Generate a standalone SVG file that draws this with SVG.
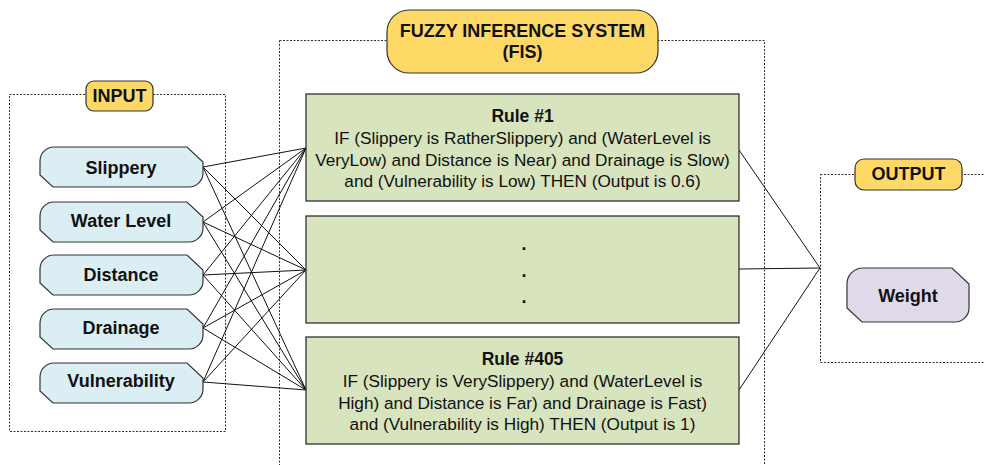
<svg xmlns="http://www.w3.org/2000/svg" width="985" height="465" viewBox="0 0 985 465">
<style>
.frame{fill:none;stroke:#333;stroke-width:1;stroke-dasharray:2 1.5}
.label{fill:#ffd966;stroke:#333;stroke-width:1.2}
.inp{fill:#daeef3;stroke:#333;stroke-width:1.2}
.out{fill:#e0d9e9;stroke:#333;stroke-width:1.2}
.rule{fill:#d7e4bd;stroke:#222;stroke-width:1.2}
.b{font-family:"Liberation Sans",Arial,sans-serif;font-weight:bold;font-size:18px;fill:#111;text-anchor:middle}
.h{font-family:"Liberation Sans",Arial,sans-serif;font-weight:bold;font-size:17.5px;fill:#111;text-anchor:middle}
.t{font-family:"Liberation Sans",Arial,sans-serif;font-size:17.2px;fill:#111;text-anchor:middle}
.conn line{stroke:#111;stroke-width:1}
</style>
<defs>
<path id="inshape" d="M14 0 H147 L163 15 V26 A14 14 0 0 1 149 40 H13 L0 28 V14 A14 14 0 0 1 14 0 Z"/>
</defs>
<rect width="985" height="465" fill="#fff"/>
<g id="frames">
<rect class="frame" x="9.5" y="94.5" width="216" height="337"/>
<rect class="frame" x="279.5" y="40.5" width="485" height="440"/>
<rect class="frame" x="820.5" y="174.5" width="180" height="188"/>
</g>
<g class="conn" id="connectors">
<line x1="203" y1="167" x2="306" y2="148"/>
<line x1="203" y1="167" x2="306" y2="270"/>
<line x1="203" y1="167" x2="306" y2="390"/>
<line x1="203" y1="222" x2="306" y2="148"/>
<line x1="203" y1="222" x2="306" y2="270"/>
<line x1="203" y1="222" x2="306" y2="390"/>
<line x1="203" y1="275" x2="306" y2="148"/>
<line x1="203" y1="275" x2="306" y2="270"/>
<line x1="203" y1="275" x2="306" y2="390"/>
<line x1="203" y1="328" x2="306" y2="148"/>
<line x1="203" y1="328" x2="306" y2="270"/>
<line x1="203" y1="328" x2="306" y2="390"/>
<line x1="203" y1="382" x2="306" y2="148"/>
<line x1="203" y1="382" x2="306" y2="270"/>
<line x1="203" y1="382" x2="306" y2="390"/>
<line x1="739" y1="150" x2="820" y2="268"/>
<line x1="739" y1="269" x2="820" y2="268"/>
<line x1="739" y1="390" x2="820" y2="268"/>
</g>
<g id="input-label">
<rect class="label" x="86" y="81" width="67" height="30" rx="8"/>
<text class="b" x="119.5" y="102">INPUT</text>
</g>
<g id="fis-label">
<rect class="label" x="387" y="10" width="271" height="63" rx="22"/>
<text class="b" x="522.5" y="37">FUZZY INFERENCE SYSTEM</text>
<text class="b" x="522.5" y="58">(FIS)</text>
</g>
<g id="output-label">
<rect class="label" x="855" y="159" width="107" height="31" rx="9"/>
<text class="b" x="908.5" y="180">OUTPUT</text>
</g>
<g id="slippery">
<use href="#inshape" class="inp" x="40" y="147"/>
<text class="b" x="121" y="174">Slippery</text>
</g>
<g id="water-level">
<use href="#inshape" class="inp" x="40" y="202"/>
<text class="b" x="121" y="227">Water Level</text>
</g>
<g id="distance">
<use href="#inshape" class="inp" x="40" y="255"/>
<text class="b" x="121" y="281">Distance</text>
</g>
<g id="drainage">
<use href="#inshape" class="inp" x="40" y="309"/>
<text class="b" x="121" y="334">Drainage</text>
</g>
<g id="vulnerability">
<use href="#inshape" class="inp" x="40" y="363"/>
<text class="b" x="121" y="387">Vulnerability</text>
</g>
<g id="rule1">
<rect class="rule" x="306" y="94" width="433" height="107"/>
<text class="h" x="522.5" y="122">Rule #1</text>
<text class="t" x="522.5" y="144">IF (Slippery is RatherSlippery) and (WaterLevel is</text>
<text class="t" x="522.5" y="166">VeryLow) and Distance is Near) and Drainage is Slow)</text>
<text class="t" x="522.5" y="187">and (Vulnerability is Low) THEN (Output is 0.6)</text>
</g>
<g id="rule-mid">
<rect class="rule" x="306" y="216" width="433" height="107"/>
<text class="b" x="524" y="250">.</text>
<text class="b" x="524" y="277">.</text>
<text class="b" x="524" y="303">.</text>
</g>
<g id="rule405">
<rect class="rule" x="306" y="337" width="433" height="107"/>
<text class="h" x="522.5" y="365">Rule #405</text>
<text class="t" x="522.5" y="387">IF (Slippery is VerySlippery) and (WaterLevel is</text>
<text class="t" x="522.5" y="409">High) and Distance is Far) and Drainage is Fast)</text>
<text class="t" x="522.5" y="430">and (Vulnerability is High) THEN (Output is 1)</text>
</g>
<g id="weight">
<path class="out" d="M863 268 H952 L969 284 V308 A14 14 0 0 1 955 322 H862 L847 308 V284 A16 16 0 0 1 863 268 Z"/>
<text class="b" x="908" y="302">Weight</text>
</g>
</svg>
